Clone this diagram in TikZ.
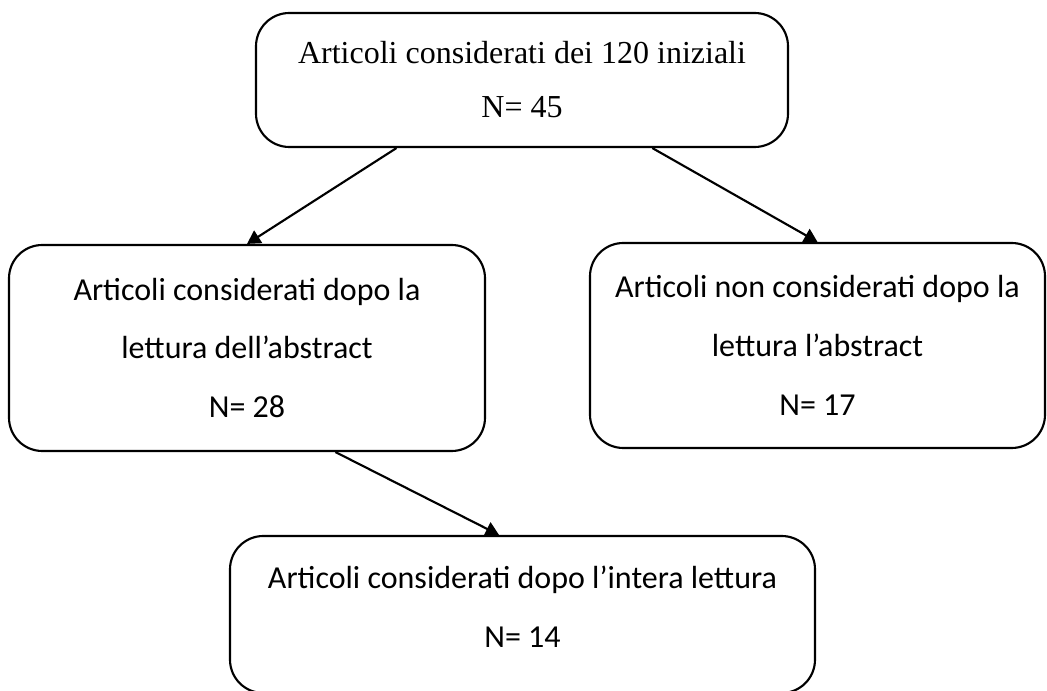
\documentclass[tikz,border=0pt]{standalone}
\usepackage{fontspec}
\setmainfont{Liberation Serif}
\newfontfamily\carlito{Carlito}
\usetikzlibrary{arrows.meta, calc}

\begin{document}
\begin{tikzpicture}[
			x=0.75pt, y=-0.75pt,
			box/.style={draw, line width=1.6pt, rounded corners=25pt, align=center, inner sep=0pt},
			serif/.style={font=\fontsize{24}{40.5}\selectfont},
			sans/.style={font=\carlito\fontsize{24}{44}\selectfont},
			link/.style={-{Triangle[length=10pt, width=11pt]}, line width=1.6pt},
			]
			\useasboundingbox (0,0) rectangle (1047,691);
			\node[box, serif, minimum width=399pt, minimum height=100.5pt] (top) at (522,80)
				{Articoli considerati dei 120 iniziali\\N= 45};
			\node[box, sans, minimum width=357pt, minimum height=154.5pt] (left) at (247,348)
				{Articoli considerati dopo la\\lettura dell’abstract\\N= 28};
			\node[box, sans, minimum width=341.25pt, minimum height=153.75pt] (right) at (817.5,345.5)
				{Articoli non considerati dopo la\\lettura l’abstract\\N= 17};
			\node[box, sans, text depth=12pt, minimum width=438.75pt, minimum height=117.75pt] (bot) at (522.5,614.5)
				{Articoli considerati dopo l’intera lettura\\N= 14};
			\draw[link] ($(top.south west)!0.265!(top.south east)$) -- (left.north);
			\draw[link] ($(top.south west)!0.744!(top.south east)$) -- (right.north);
			\draw[link] ($(left.south west)!0.685!(left.south east)$) -- ($(bot.north west)!0.46!(bot.north east)$);
	\end{tikzpicture}
\end{document}
